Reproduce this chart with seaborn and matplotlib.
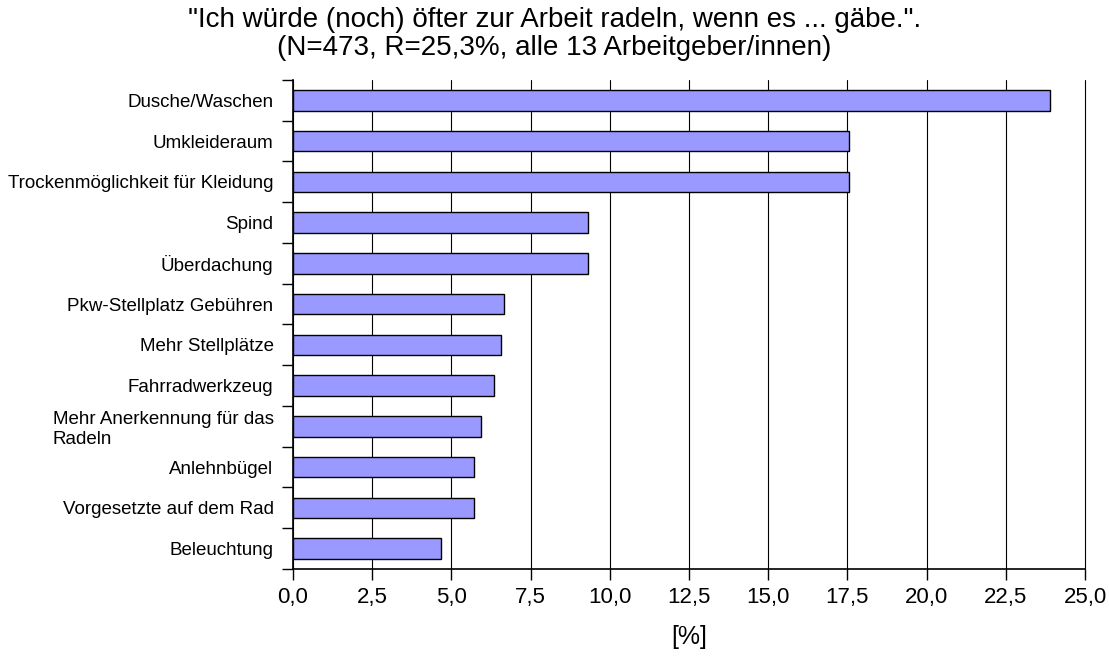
import matplotlib
matplotlib.use("Agg")
import matplotlib.pyplot as plt
import matplotlib.ticker as mticker
import seaborn as sns
import numpy as np

# ======================
# DATA
# ======================
categories = [
    "Dusche/Waschen",
    "Umkleideraum",
    "Trockenmöglichkeit für Kleidung",
    "Spind",
    "Überdachung",
    "Pkw-Stellplatz Gebühren",
    "Mehr Stellplätze",
    "Fahrradwerkzeug",
    "Mehr Anerkennung für das\nRadeln",
    "Anlehnbügel",
    "Vorgesetzte auf dem Rad",
    "Beleuchtung",
]
percent = [23.9, 17.55, 17.55, 9.3, 9.3, 6.65, 6.55, 6.34, 5.92, 5.71, 5.71, 4.66]

title_1 = '"Ich würde (noch) öfter zur Arbeit radeln, wenn es ... gäbe.".'
title_2 = "(N=473, R=25,3%, alle 13 Arbeitgeber/innen)"
x_ticks = np.arange(0, 25.01, 2.5)

# ======================
# STYLE
# ======================
sns.set_style("white")
plt.rcParams["font.family"] = ["Liberation Sans", "DejaVu Sans"]
plt.rcParams["text.color"] = "black"
plt.rcParams["axes.labelcolor"] = "black"
plt.rcParams["xtick.color"] = "black"
plt.rcParams["ytick.color"] = "black"

fig = plt.figure(figsize=(11.09, 6.6), dpi=100)
ax = fig.add_axes([0.2642, 0.1379, 0.9784 - 0.2642, 0.8788 - 0.1379])

sns.barplot(
    x=percent,
    y=categories,
    orient="h",
    color="#9999ff",
    saturation=1,
    edgecolor="black",
    linewidth=1,
    width=0.5,
    ax=ax,
)

# ======================
# AXES
# ======================
ax.set_xlim(0, 25)
ax.set_ylim(len(categories) - 0.5, -0.5)
ax.set_xticks(x_ticks)
ax.xaxis.set_major_formatter(mticker.FuncFormatter(lambda v, p: f"{v:.1f}".replace(".", ",")))
ax.tick_params(axis="x", labelsize=16, length=8, width=1, direction="out", pad=5, bottom=True)

ax.set_yticks(range(len(categories)))
ax.set_yticks(np.arange(-0.5, len(categories), 1), minor=True)
ax.tick_params(axis="y", which="major", length=0, labelsize=13.5, pad=14)
ax.tick_params(axis="y", which="minor", length=8, width=1, direction="out", left=True)
for lab in ax.get_yticklabels():
    lab.set_multialignment("left")

ax.xaxis.grid(True, color="black", linewidth=0.8)
ax.yaxis.grid(False)
ax.set_axisbelow(True)
# keep the 25,0 gridline fully visible at the right edge
for gl in ax.get_xgridlines():
    gl.set_clip_on(False)

for side in ["top", "right"]:
    ax.spines[side].set_visible(False)
for side in ["left", "bottom"]:
    ax.spines[side].set_color("black")
    ax.spines[side].set_linewidth(1.2)

ax.set_ylabel("")
ax.set_xlabel("[%]", fontsize=18, labelpad=12)

fig.text(0.5, 0.959, title_1, fontsize=20, ha="center", va="baseline")
fig.text(0.5, 0.916, title_2, fontsize=20, ha="center", va="baseline")

fig.savefig("out.png", dpi=100)
